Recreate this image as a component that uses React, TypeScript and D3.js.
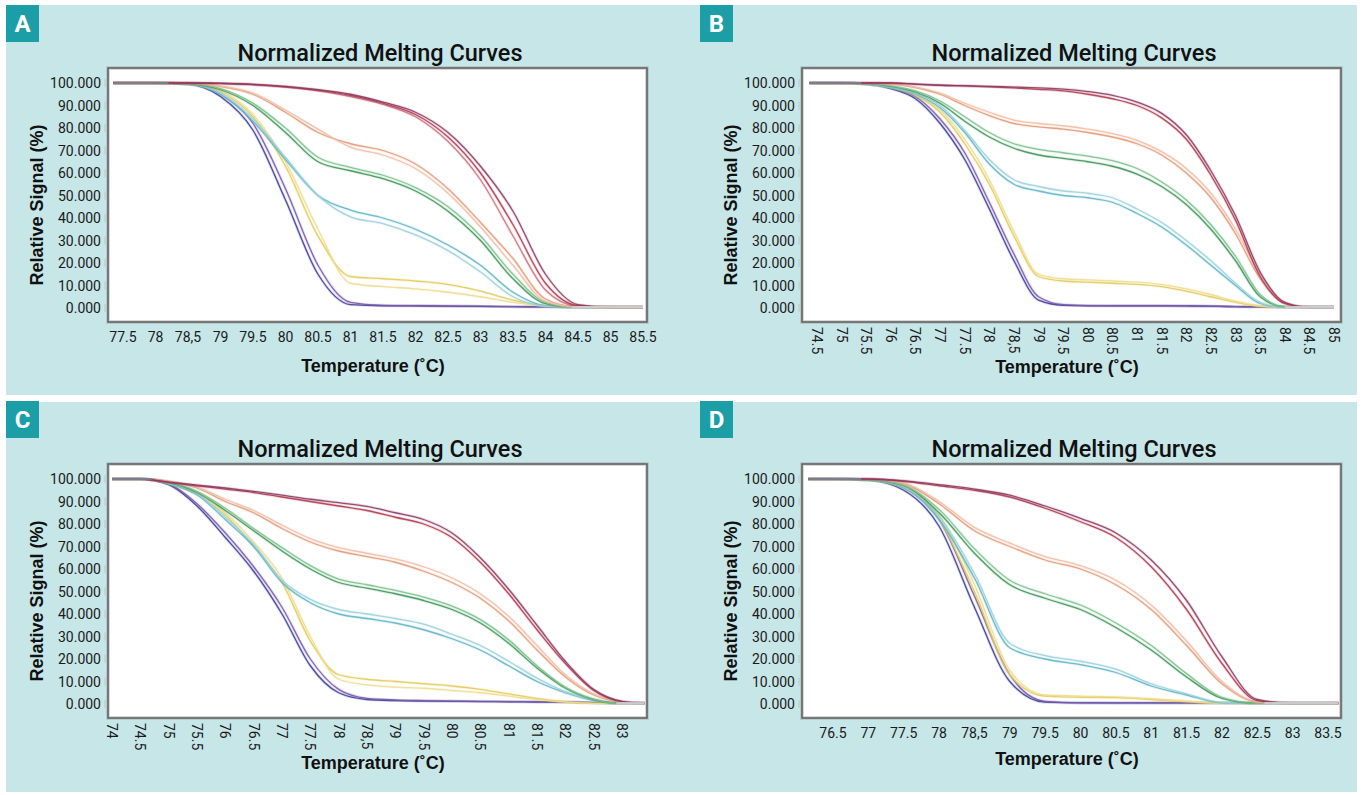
import * as d3 from 'd3';
import { useEffect, useRef } from 'react';

// temperature grids (°C) shared by every curve of a panel
const tempsA = [77.35, 77.5, 78, 78.5, 79, 79.5, 80, 80.5, 81, 81.5, 82, 82.5, 83, 83.5, 84, 84.5, 85, 85.5];
const tempsB = [74.35, 74.5, 75, 75.5, 76, 76.5, 77, 77.5, 78, 78.5, 79, 79.5, 80, 80.5, 81, 81.5, 82, 82.5, 83, 83.5, 84, 84.5, 85];
const tempsC = [74, 74.5, 75, 75.5, 76, 76.5, 77, 77.5, 78, 78.5, 79, 79.5, 80, 80.5, 81, 81.5, 82, 82.5, 83, 83.4];
const tempsD = [76.15, 76.5, 77, 77.5, 78, 78.5, 79, 79.5, 80, 80.5, 81, 81.5, 82, 82.5, 83, 83.5, 83.65];

// panel A - relative signal (%)
const blueA1 = [100, 100, 100, 99.5, 94, 79, 48, 15, 1.5, 1, 1, 0.8, 0.7, 0.6, 0.5, 0.4, 0.4, 0.4];
const blueA2 = [100, 100, 100, 99.6, 95, 82, 53, 19, 2.5, 1.2, 1, 0.9, 0.8, 0.6, 0.5, 0.4, 0.4, 0.4];
const yellowA1 = [100, 100, 100, 99.7, 96, 85, 63, 32, 14, 13, 12, 10.5, 7.5, 3.5, 1, 0.3, 0.3, 0.3];
const yellowA2 = [100, 100, 100, 99.7, 96.5, 86, 65, 35, 11, 9.5, 8.5, 7, 5, 2.5, 0.8, 0.3, 0.3, 0.3];
const cyanA1 = [100, 100, 100, 99.5, 95, 83, 66, 50, 43.5, 40, 35, 28, 19, 7, 1, 0.3, 0.3, 0.3];
const cyanA2 = [100, 100, 100, 99.5, 95.5, 84, 67, 50, 40.5, 37.5, 32.5, 25.5, 16, 5, 0.8, 0.3, 0.3, 0.3];
const greenA1 = [100, 100, 100, 99.6, 97, 90, 78, 65, 61, 57.5, 52, 43, 30, 13, 2, 0.3, 0.3, 0.3];
const greenA2 = [100, 100, 100, 99.7, 97.5, 91, 80, 67, 62.5, 59, 53.5, 45, 32, 15, 2.5, 0.3, 0.3, 0.3];
const orangeA1 = [100, 100, 100, 100, 98.5, 95, 87, 78, 73, 70, 64, 53, 38, 22, 4, 0.4, 0.3, 0.3];
const orangeA2 = [100, 100, 100, 100, 98.7, 95.5, 88, 79.5, 71.5, 68, 62, 51, 36, 19, 3, 0.4, 0.3, 0.3];
const redA1 = [100, 100, 100, 100, 99.8, 99.3, 98.3, 96.8, 94.5, 91, 86, 76, 60, 37, 11, 1, 0.3, 0.3];
const redA2 = [100, 100, 100, 100, 99.8, 99.4, 98.5, 97, 95, 91.5, 87, 78, 63, 43, 15, 1.5, 0.3, 0.3];
const redA3 = [100, 100, 100, 100, 99.8, 99.3, 98.2, 96.5, 94, 90.5, 85, 74, 57, 32, 8, 0.7, 0.3, 0.3];

// panel B
const blueB1 = [100, 100, 100, 99.6, 97.5, 93, 82, 66, 44, 21, 3.5, 1.2, 1, 1, 1, 1, 0.9, 0.8, 0.6, 0.5, 0.4, 0.4, 0.4];
const blueB2 = [100, 100, 100, 99.6, 97.8, 94, 84, 69, 47, 24, 5, 1.5, 1.1, 1, 1, 1, 0.9, 0.8, 0.6, 0.5, 0.4, 0.4, 0.4];
const yellowB1 = [100, 100, 100, 99.6, 98, 94.5, 87, 73, 55, 32, 14, 12, 11.5, 11, 10.5, 9.5, 7.5, 5, 2.5, 0.7, 0.3, 0.3, 0.3];
const yellowB2 = [100, 100, 100, 99.7, 98.2, 95, 88, 75, 57, 34, 15, 13, 12.5, 12, 11.5, 10.5, 8.5, 6, 3, 1, 0.3, 0.3, 0.3];
const cyanB1 = [100, 100, 100, 99.5, 98, 95, 89, 78, 64, 55, 52, 50, 49, 47, 42, 36, 28, 19, 10, 2, 0.3, 0.3, 0.3];
const cyanB2 = [100, 100, 100, 99.6, 98.2, 95.5, 90, 79, 66, 57, 54, 52, 51, 49, 44, 38, 30, 21, 11, 2.5, 0.3, 0.3, 0.3];
const greenB1 = [100, 100, 100, 99.7, 98.5, 96, 91, 83, 76, 71, 68, 66.5, 65, 63, 59.5, 54, 46, 35, 21, 5, 0.5, 0.3, 0.3];
const greenB2 = [100, 100, 100, 99.7, 98.7, 96.5, 92, 85, 78, 73, 70.5, 69, 67.5, 65.5, 62, 56, 48, 37, 23, 6, 0.6, 0.3, 0.3];
const orangeB1 = [100, 100, 100, 100, 99.5, 98, 95, 90, 85.5, 82, 80.5, 79.5, 78, 76, 73, 68, 60, 49, 33, 13, 2, 0.3, 0.3];
const orangeB2 = [100, 100, 100, 100, 99.5, 98.2, 95.5, 91, 87, 83.5, 82, 81, 79.5, 77.5, 74.5, 69.5, 62, 51, 35, 15, 2.5, 0.3, 0.3];
const redB1 = [100, 100, 100, 100, 100, 99.5, 99, 98.7, 98.3, 97.8, 97.2, 96.5, 95, 93, 90, 84.5, 75, 59, 39, 14, 2, 0.3, 0.3];
const redB2 = [100, 100, 100, 100, 100, 99.5, 99, 98.8, 98.5, 98.2, 97.8, 97.3, 96.2, 94.5, 91.5, 86.5, 77, 61, 41, 16, 2.5, 0.3, 0.3];

// panel C
const blueC1 = [100, 100, 97.5, 88, 74, 59, 40, 17, 5, 2, 1.5, 1.3, 1.2, 1.1, 1, 0.9, 0.8, 0.6, 0.3, 0.3];
const blueC2 = [100, 100, 97.8, 89, 76, 61, 43, 20, 6.5, 2.5, 1.8, 1.5, 1.3, 1.2, 1.1, 1, 0.9, 0.6, 0.3, 0.3];
const yellowC1 = [100, 100, 98, 93, 84, 70, 54, 28, 13, 11, 10, 9, 8, 6.5, 4.5, 2.5, 1, 0.3, 0.3, 0.3];
const yellowC2 = [100, 100, 98.2, 93.5, 85, 72, 56, 30, 11, 8.5, 7.5, 7, 6, 5, 3.5, 2, 0.8, 0.3, 0.3, 0.3];
const cyanC1 = [100, 100, 98, 93, 82, 70, 54, 45, 40, 38, 36, 33, 29, 24, 17, 10, 5, 1.5, 0.3, 0.3];
const cyanC2 = [100, 100, 98.2, 93.5, 83, 71, 55, 46.5, 42, 40, 38, 35.5, 31, 26, 19, 11.5, 5.5, 1.8, 0.3, 0.3];
const greenC1 = [100, 100, 98.5, 94, 86, 77, 68, 60, 54, 51.5, 49, 46, 42, 36, 27, 16, 7, 2, 0.3, 0.3];
const greenC2 = [100, 100, 98.6, 94.5, 87, 78, 69.5, 61.5, 55.5, 53, 50.5, 47.5, 43.5, 37.5, 28.5, 17, 7.5, 2.2, 0.3, 0.3];
const orangeC1 = [100, 100, 99, 96, 90, 85, 78, 72, 68, 65.5, 63, 59, 54, 47, 37, 24, 12, 4, 0.8, 0.3];
const orangeC2 = [100, 100, 99, 96.5, 91, 86, 79.5, 73.5, 69.5, 67, 64.5, 61, 56, 49, 39, 26, 13, 4.5, 1, 0.3];
const redC1 = [100, 100, 98.5, 97, 95.5, 94, 92, 90, 88, 86, 83, 80, 74, 63, 49, 33, 18, 6, 1, 0.3];
const redC2 = [100, 100, 98.6, 97.3, 96, 94.5, 92.8, 91, 89.5, 87.8, 85, 82, 76, 65, 51, 35, 19, 6.5, 1.2, 0.3];

// panel D
const blueD1 = [100, 100, 99.5, 95, 79, 43, 10, 0.8, 0.5, 0.5, 0.5, 0.5, 0.5, 0.4, 0.4, 0.4, 0.4];
const blueD2 = [100, 100, 99.6, 96, 82, 48, 13, 1.2, 0.6, 0.5, 0.5, 0.5, 0.5, 0.4, 0.4, 0.4, 0.4];
const yellowD1 = [100, 100, 99.6, 96, 82, 50, 13, 3.5, 3, 2.8, 2, 1, 0.3, 0.3, 0.3, 0.3, 0.3];
const yellowD2 = [100, 100, 99.7, 96.5, 84, 53, 15, 4, 3.5, 3.2, 2.4, 1.3, 0.4, 0.3, 0.3, 0.3, 0.3];
const cyanD1 = [100, 100, 99.5, 96, 82, 56, 25, 20, 17.5, 14, 8, 4, 0.5, 0.3, 0.3, 0.3, 0.3];
const cyanD2 = [100, 100, 99.6, 96.5, 83.5, 58, 27, 21.5, 19, 15.5, 9, 4.5, 0.7, 0.3, 0.3, 0.3, 0.3];
const greenD1 = [100, 100, 99.7, 97, 85, 67, 53, 47, 42, 34, 24, 12, 2.5, 0.3, 0.3, 0.3, 0.3];
const greenD2 = [100, 100, 99.7, 97.3, 86.5, 69, 55, 49, 44, 36, 26, 13.5, 3, 0.3, 0.3, 0.3, 0.3];
const orangeD1 = [100, 100, 100, 98, 89, 77, 70, 64, 60, 53, 42, 26, 9, 0.8, 0.3, 0.3, 0.3];
const orangeD2 = [100, 100, 100, 98.3, 90, 78.5, 71.5, 65.5, 61.5, 55, 44, 28, 10, 1, 0.3, 0.3, 0.3];
const redD1 = [100, 100, 100, 99, 97, 95, 92, 87, 81, 74, 61, 42, 18, 1.5, 0.3, 0.3, 0.3];
const redD2 = [100, 100, 100, 99.2, 97.5, 95.5, 92.8, 88, 82.5, 76, 64, 46, 21, 2, 0.3, 0.3, 0.3];

// flat start at 100 % and grey baseline tail at 0 % (temperatures)
const headA = [77.35, 78.2];
const headB = [74.35, 75.4];
const headC = [74, 74.7];
const headD = [76.15, 76.9];
const tailA = [84.4, 85.5];
const tailB = [84.0, 85.0];
const tailC = [82.9, 83.4];
const tailD = [82.6, 83.65];

// tick labels
const yLabels = ['0.000', '10.000', '20.000', '30.000', '40.000', '50.000', '60.000', '70.000', '80.000', '90.000', '100.000'];
const xLabelsA = ['77.5', '78', '78,5', '79', '79.5', '80', '80.5', '81', '81.5', '82', '82.5', '83', '83.5', '84', '84.5', '85', '85.5'];
const xLabelsB = ['74.5', '75', '75.5', '76', '76.5', '77', '77.5', '78', '78,5', '79', '79.5', '80', '80.5', '81', '81.5', '82', '82.5', '83', '83.5', '84', '84.5', '85'];
const xLabelsC = ['74', '74.5', '75', '75.5', '76', '76.5', '77', '77.5', '78', '78,5', '79', '79.5', '80', '80.5', '81', '81.5', '82', '82.5', '83'];
const xLabelsD = ['76.5', '77', '77.5', '78', '78,5', '79', '79.5', '80', '80.5', '81', '81.5', '82', '82.5', '83', '83.5'];

const BLUE = '#3b3d9a';
const PURPLE = '#7a5aa8';
const YELLOW = '#e2cb58';
const YELLOW_LT = '#eedc8e';
const CYAN = '#5db5c9';
const CYAN_LT = '#9bd0dc';
const GREEN = '#3e9658';
const GREEN_LT = '#7cc08c';
const ORANGE = '#e39a78';
const ORANGE_LT = '#efbea6';
const RED = '#b23a4c';
const MAROON = '#8c3c64';
const RED_LT = '#cc7080';

const BG = '#c7e6e8';
const BOX = '#1b9ea6';
const FONT = "Roboto, 'Liberation Sans', Arial, sans-serif";
const HEAVY = "'Liberation Sans', Arial, sans-serif";

const panels = [
  {
    key: 'A', dx: 0, dy: 0, temps: tempsA, xLabels: xLabelsA, xRange: [123, 643], rotated: false, xTitleY: 366,
    head: headA, tail: tailA,
    curves: [
      [blueA1, BLUE], [blueA2, PURPLE], [yellowA1, YELLOW], [yellowA2, YELLOW_LT], [cyanA1, CYAN], [cyanA2, CYAN_LT],
      [greenA1, GREEN], [greenA2, GREEN_LT], [orangeA1, ORANGE], [orangeA2, ORANGE_LT], [redA3, RED_LT], [redA1, RED], [redA2, MAROON],
    ],
  },
  {
    key: 'B', dx: 694, dy: 0, temps: tempsB, xLabels: xLabelsB, xRange: [123, 640], rotated: true, xTitleY: 367,
    head: headB, tail: tailB,
    curves: [
      [blueB1, BLUE], [blueB2, PURPLE], [yellowB1, YELLOW], [yellowB2, YELLOW_LT], [cyanB1, CYAN], [cyanB2, CYAN_LT],
      [greenB1, GREEN], [greenB2, GREEN_LT], [orangeB1, ORANGE], [orangeB2, ORANGE_LT], [redB1, RED], [redB2, MAROON],
    ],
  },
  {
    key: 'C', dx: 0, dy: 396, temps: tempsC, xLabels: xLabelsC, xRange: [112, 622], rotated: true, xTitleY: 367,
    head: headC, tail: tailC,
    curves: [
      [blueC1, BLUE], [blueC2, PURPLE], [yellowC1, YELLOW], [yellowC2, YELLOW_LT], [cyanC1, CYAN], [cyanC2, CYAN_LT],
      [greenC1, GREEN], [greenC2, GREEN_LT], [orangeC1, ORANGE], [orangeC2, ORANGE_LT], [redC1, RED], [redC2, MAROON],
    ],
  },
  {
    key: 'D', dx: 694, dy: 396, temps: tempsD, xLabels: xLabelsD, xRange: [139, 634], rotated: false, xTitleY: 363,
    head: headD, tail: tailD,
    curves: [
      [blueD1, BLUE], [blueD2, PURPLE], [yellowD1, YELLOW], [yellowD2, YELLOW_LT], [cyanD1, CYAN], [cyanD2, CYAN_LT],
      [greenD1, GREEN], [greenD2, GREEN_LT], [orangeD1, ORANGE], [orangeD2, ORANGE_LT], [redD1, RED], [redD2, MAROON],
    ],
  },
];

export default function App() {
  const ref = useRef<SVGSVGElement | null>(null);

  useEffect(() => {
    if (!ref.current) return;
    const svg = d3.select(ref.current);
    svg.selectAll('*').remove();

    // two cyan bands behind the charts
    svg.append('rect').attr('x', 6).attr('y', 5).attr('width', 1351).attr('height', 390).attr('fill', BG);
    svg.append('rect').attr('x', 6).attr('y', 402).attr('width', 1351).attr('height', 390).attr('fill', BG);

    const left = 108, right = 647, top = 68, bottom = 322;

    panels.forEach((p) => {
      const g = svg.append('g').attr('transform', `translate(${p.dx},${p.dy})`);

      // letter badge
      g.append('rect').attr('x', 6).attr('y', 5).attr('width', 33).attr('height', 37).attr('fill', BOX);
      g.append('text')
        .attr('x', 22.5).attr('y', 24)
        .attr('text-anchor', 'middle').attr('dominant-baseline', 'central')
        .attr('fill', '#fff').attr('font-family', FONT).attr('font-weight', 700).attr('font-size', 24)
        .text(p.key);

      g.append('text')
        .attr('x', 380).attr('y', 53)
        .attr('text-anchor', 'middle').attr('dominant-baseline', 'central')
        .attr('font-family', FONT).attr('font-weight', 500).attr('font-size', 23.5).attr('fill', '#111')
        .text('Normalized Melting Curves');

      const first = parseFloat(p.xLabels[0].replace(',', '.'));
      const last = parseFloat(p.xLabels[p.xLabels.length - 1].replace(',', '.'));
      const x = d3.scaleLinear().domain([first, last]).range(p.xRange);
      const y = d3.scaleLinear().domain([0, 100]).range([308, 83]);

      // plot area
      g.append('rect')
        .attr('x', left).attr('y', top).attr('width', right - left).attr('height', bottom - top)
        .attr('fill', '#fff');

      const clipId = `clip-${p.key}`;
      g.append('clipPath').attr('id', clipId)
        .append('rect').attr('x', left).attr('y', top).attr('width', right - left).attr('height', bottom - top);

      const plot = g.append('g').attr('clip-path', `url(#${clipId})`);

      const line = d3.line<number>()
        .x((_, i) => x(p.temps[i]))
        .y((d) => y(d))
        .curve(d3.curveMonotoneX);

      p.curves.forEach(([values, color]) => {
        plot.append('path')
          .attr('d', line(values as number[]))
          .attr('fill', 'none')
          .attr('stroke', color as string)
          .attr('stroke-width', 3)
          .attr('stroke-opacity', 0.18);
        plot.append('path')
          .attr('d', line(values as number[]))
          .attr('fill', 'none')
          .attr('stroke', color as string)
          .attr('stroke-width', 1.3)
          .attr('stroke-opacity', 0.9);
      });

      // grey flat start and baseline tail
      plot.append('line')
        .attr('x1', x(p.head[0])).attr('x2', x(p.head[1]))
        .attr('y1', y(100)).attr('y2', y(100))
        .attr('stroke', '#7c7c8a').attr('stroke-width', 1.8);
      plot.append('line')
        .attr('x1', x(p.tail[0])).attr('x2', x(p.tail[1]))
        .attr('y1', y(0.3)).attr('y2', y(0.3))
        .attr('stroke', '#cacaca').attr('stroke-width', 2.5);

      // frame
      g.append('rect')
        .attr('x', left).attr('y', top).attr('width', right - left).attr('height', bottom - top)
        .attr('fill', 'none').attr('stroke', '#9a9a9a').attr('stroke-width', 3.5).attr('stroke-opacity', 0.5);
      g.append('rect')
        .attr('x', left).attr('y', top).attr('width', right - left).attr('height', bottom - top)
        .attr('fill', 'none').attr('stroke', '#5e5e5e').attr('stroke-width', 1.5);

      // y ticks
      const yAxis = g.append('g').attr('font-family', FONT).attr('font-size', 14).attr('fill', '#1a1a1a');
      yLabels.forEach((lab) => {
        const v = parseFloat(lab);
        yAxis.append('text')
          .attr('x', 101).attr('y', y(v))
          .attr('text-anchor', 'end').attr('dominant-baseline', 'central')
          .text(lab);
        yAxis.append('line')
          .attr('x1', 105).attr('x2', 105).attr('y1', y(v) - 4).attr('y2', y(v) + 4)
          .attr('stroke', '#c4c4c4').attr('stroke-width', 1);
      });

      // x ticks
      const xAxis = g.append('g').attr('font-family', FONT).attr('font-size', 14).attr('fill', '#1a1a1a');
      p.xLabels.forEach((lab) => {
        const v = parseFloat(lab.replace(',', '.'));
        if (p.rotated) {
          xAxis.append('text')
            .attr('transform', `translate(${x(v)},327) rotate(90)`)
            .attr('text-anchor', 'start').attr('dominant-baseline', 'central')
            .text(lab);
        } else {
          xAxis.append('text')
            .attr('x', x(v)).attr('y', 337)
            .attr('text-anchor', 'middle').attr('dominant-baseline', 'central')
            .text(lab);
        }
      });

      // axis titles
      g.append('text')
        .attr('x', 373).attr('y', p.xTitleY)
        .attr('text-anchor', 'middle').attr('dominant-baseline', 'central')
        .attr('font-family', HEAVY).attr('font-weight', 700).attr('font-size', 18).attr('fill', '#111')
        .text('Temperature (˚C)');
      g.append('text')
        .attr('transform', `translate(37,205) rotate(-90)`)
        .attr('text-anchor', 'middle').attr('dominant-baseline', 'central')
        .attr('font-family', HEAVY).attr('font-weight', 700).attr('font-size', 18).attr('fill', '#111')
        .text('Relative Signal (%)');
    });
  }, []);

  return (
    <svg
      ref={ref}
      width={1362}
      height={795}
      style={{ position: 'absolute', left: 0, top: 0, background: '#fff' }}
    />
  );
}
